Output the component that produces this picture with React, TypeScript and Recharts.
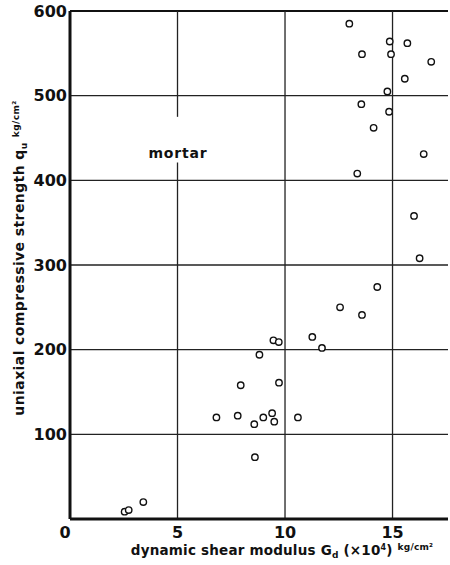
import { ScatterChart, Scatter, XAxis, YAxis, ReferenceLine, ReferenceDot } from "recharts";

// dynamic shear modulus Gd (x10^4 kg/cm2) vs uniaxial compressive strength qu (kg/cm2)
const gd = [
  2.54, 2.73, 3.41, 6.81, 7.8, 7.94, 8.57, 8.6, 8.81, 8.99, 9.4, 9.46, 9.5, 9.71, 9.72,
  10.6, 11.27, 11.72, 12.56, 13.58, 14.29, 13.36, 16.26, 16.0, 16.45, 14.12, 14.84,
  13.55, 14.76, 15.57, 16.8, 14.93, 13.58, 15.69, 14.87, 12.99,
];
const qu = [
  8.6, 10.6, 20, 120, 122, 158, 112, 73, 194, 120, 125, 211, 115, 209, 161,
  120, 215, 202, 250, 241, 274, 408, 308, 358, 431, 462, 481,
  490, 505, 520, 540, 549, 549, 562, 564, 585,
];
const xTicks = [0, 5, 10, 15];
const yTicks = [100, 200, 300, 400, 500, 600];
const hGrid = [100, 200, 300, 400, 500];
const vGrid = [10, 15];

const points = gd.map((g, i) => ({ gd: g, qu: qu[i] }));

const FONT = "'DejaVu Sans', sans-serif";

const Ring = (props: any) => (
  <circle cx={props.cx} cy={props.cy} r={3.2} fill="#fff" stroke="#111" strokeWidth={1.4} />
);

const XTick = (props: any) => {
  const { x, y, payload } = props;
  const shift = payload.value === 0 ? -5 : 0;
  return (
    <text x={x + shift} y={y + 13} textAnchor="middle" fontFamily={FONT} fontWeight="bold" fontSize={16} fill="#111">
      {payload.value}
    </text>
  );
};

const XTitle = (props: any) => {
  const vb = props.viewBox;
  return (
    <text x={vb.x + vb.width / 2 + 23} y={vb.y + 36} textAnchor="middle" fontFamily={FONT} fontWeight="bold" fontSize={13.5} letterSpacing={0.2} fill="#111">
      dynamic shear modulus G<tspan fontSize={9} dy={3}>d</tspan>
      <tspan dy={-3}> (×10</tspan><tspan fontSize={8} dy={-5}>4</tspan>
      <tspan dy={5}>) </tspan>
      <tspan fontSize={9} dy={-5}>kg/cm²</tspan>
    </text>
  );
};

const YTitle = () => (
  <text
    transform="translate(24,258) rotate(-90)"
    textAnchor="middle"
    fontFamily={FONT}
    fontWeight="bold"
    fontSize={14}
    letterSpacing={0.4}
    fill="#111"
  >
    uniaxial compressive strength  q<tspan fontSize={9} dy={3}>u</tspan>
    <tspan dy={-3}>  </tspan>
    <tspan fontSize={9} dy={-5}>kg/cm²</tspan>
  </text>
);

export default function App() {
  return (
    <div style={{ position: "fixed", left: 0, top: 0, background: "#fff" }}>
      <ScatterChart width={450} height={565} margin={{ top: 11, right: 2, bottom: 0, left: 0 }}>
        <XAxis
          type="number"
          dataKey="gd"
          domain={[0, 17.58]}
          ticks={xTicks}
          allowDataOverflow
          height={46}
          tickLine={false}
          tickSize={0}
          tickMargin={6}
          axisLine={{ stroke: "#111", strokeWidth: 3 }}
          tick={<XTick />}
          label={<XTitle />}
        />
        <YAxis
          type="number"
          dataKey="qu"
          domain={[0, 600]}
          ticks={yTicks}
          width={70}
          tickLine={false}
          tickSize={0}
          tickMargin={3}
          axisLine={{ stroke: "#111", strokeWidth: 3 }}
          tick={{ fontFamily: FONT, fontWeight: "bold", fontSize: 16, fill: "#111" }}
        />
        {hGrid.map((v) => (
          <ReferenceLine key={"h" + v} y={v} stroke="#222" strokeWidth={1.3} />
        ))}
        <ReferenceLine y={600} stroke="#111" strokeWidth={2} />
        {vGrid.map((v) => (
          <ReferenceLine key={"v" + v} x={v} stroke="#222" strokeWidth={1.3} />
        ))}
        <ReferenceLine segment={[{ x: 5, y: 0 }, { x: 5, y: 421 }]} stroke="#222" strokeWidth={1.3} />
        <ReferenceLine segment={[{ x: 5, y: 475 }, { x: 5, y: 600 }]} stroke="#222" strokeWidth={1.3} />
        <ReferenceDot
          x={5.02}
          y={432}
          r={0}
          stroke="none"
          label={{ value: "mortar", position: "center", fontFamily: FONT, fontWeight: "bold", fontSize: 14, letterSpacing: 0.8, fill: "#111" }}
        />
        <Scatter data={points} shape={<Ring />} isAnimationActive={false} />
        <YTitle />
      </ScatterChart>
    </div>
  );
}
